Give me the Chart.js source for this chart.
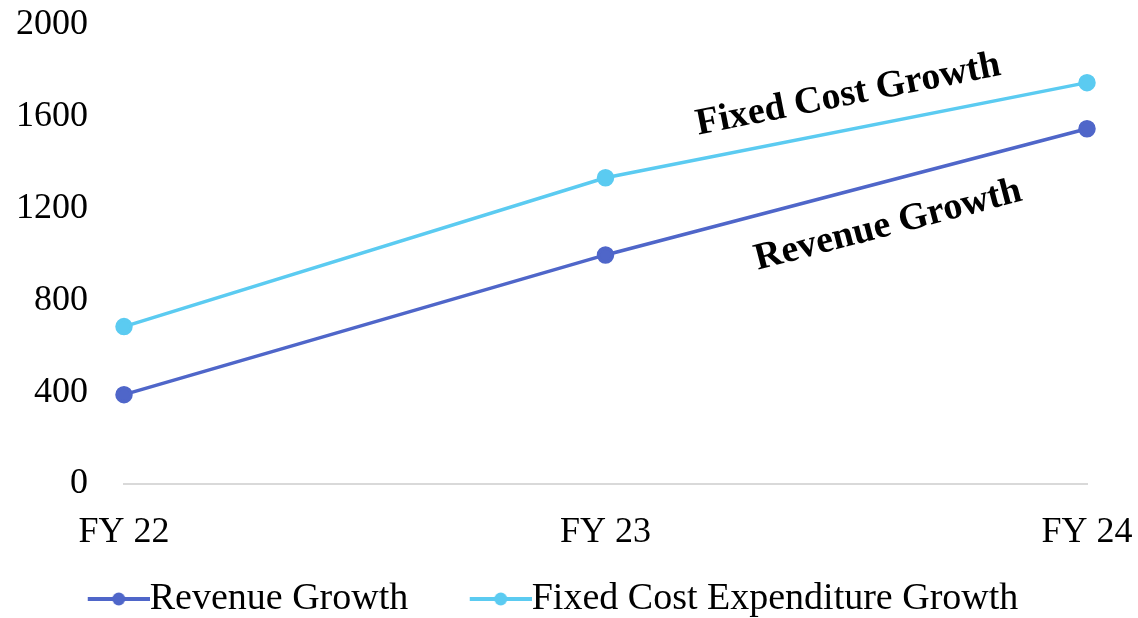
<!DOCTYPE html>
<html>
<head>
<meta charset="utf-8">
<script src="https://cdn.jsdelivr.net/npm/chart.js@4"></script>
<style>
  html, body { margin: 0; padding: 0; background: #fff; }
  #wrap { width: 1138px; height: 618px; }
</style>
</head>
<body>
<div id="wrap"><canvas id="chart"></canvas></div>
<script>
// --- data ---
const categories = ['FY 22', 'FY 23', 'FY 24'];
const revenueGrowth = [389, 997, 1546];
const fixedCostGrowth = [685, 1333, 1747];
const yTicks = [0, 400, 800, 1200, 1600, 2000];

// in-chart labels: text, dataset index, position along x (category index), value
const annoTexts = ['Fixed Cost Growth', 'Revenue Growth'];
const annoDataset = [1, 0];
const annoX = [1.504, 1.587];
const annoY = [1693, 1125];

const FONT = '"Liberation Serif", "Times New Roman", serif';
const REV_COLOR = '#4F66C9';
const FIX_COLOR = '#5BCBF1';

// legend symbol: line with a dot in the middle (left part left blank to pull the text closer)
function legendSymbol(color) {
  const w = 62, pad = 38, h = 14;
  const c = document.createElement('canvas');
  c.width = w + pad;
  c.height = h;
  const ctx = c.getContext('2d');
  ctx.strokeStyle = color;
  ctx.lineWidth = 4;
  ctx.beginPath();
  ctx.moveTo(pad, h / 2);
  ctx.lineTo(pad + w, h / 2);
  ctx.stroke();
  ctx.fillStyle = color;
  ctx.beginPath();
  ctx.arc(pad + w / 2, h / 2, 6.5, 0, Math.PI * 2);
  ctx.fill();
  return c;
}
const legendSymbols = [legendSymbol(REV_COLOR), legendSymbol(FIX_COLOR)];

// draws the rotated bold labels next to the lines
const lineLabels = {
  id: 'lineLabels',
  afterDatasetsDraw(chart) {
    const ctx = chart.ctx;
    const x = chart.scales.x, y = chart.scales.y;
    annoTexts.forEach((text, i) => {
      const data = chart.data.datasets[annoDataset[i]].data;
      const dx = x.getPixelForValue(2) - x.getPixelForValue(1);
      const dy = y.getPixelForValue(data[2]) - y.getPixelForValue(data[1]);
      const angle = Math.atan2(dy, dx);
      ctx.save();
      ctx.translate(x.getPixelForValue(annoX[i]), y.getPixelForValue(annoY[i]));
      ctx.rotate(angle);
      ctx.font = 'bold 38px ' + FONT;
      ctx.fillStyle = '#000';
      ctx.textAlign = 'center';
      ctx.textBaseline = 'middle';
      ctx.fillText(text, 0, 0);
      ctx.restore();
    });
  }
};

new Chart(document.getElementById('chart'), {
  type: 'line',
  data: {
    labels: categories,
    datasets: [{
      label: 'Revenue Growth',
      data: revenueGrowth,
      borderColor: REV_COLOR,
      backgroundColor: REV_COLOR,
      borderWidth: 3.5,
      pointRadius: 7,
      pointHoverRadius: 7,
      tension: 0
    }, {
      label: 'Fixed Cost Expenditure Growth',
      data: fixedCostGrowth,
      borderColor: FIX_COLOR,
      backgroundColor: FIX_COLOR,
      borderWidth: 3.5,
      pointRadius: 7,
      pointHoverRadius: 7,
      tension: 0
    }]
  },
  options: {
    responsive: true,
    maintainAspectRatio: false,
    animation: false,
    layout: { padding: { top: 24.5, right: 51, left: 0, bottom: -10 } },
    plugins: {
      legend: {
        position: 'bottom',
        labels: {
          usePointStyle: true,
          pointStyleWidth: 62,
          padding: 14,
          color: '#000',
          font: { family: FONT, size: 38 },
          generateLabels(chart) {
            const items = Chart.defaults.plugins.legend.labels.generateLabels(chart);
            items.forEach((item, i) => {
              item.pointStyle = legendSymbols[i];
              if (i === 0) item.text += '\u00a0\u00a0\u00a0';
            });
            return items;
          }
        }
      },
      tooltip: { enabled: false }
    },
    scales: {
      x: {
        offset: false,
        afterFit(axis) {
          axis.height = 82;
          axis.paddingLeft = 0;
          axis.paddingRight = 0;
        },
        grid: { display: false, drawTicks: false },
        border: { display: true, color: '#d9d9d9', width: 2 },
        ticks: {
          color: '#000',
          padding: 27,
          maxRotation: 0,
          font: { family: FONT, size: 36 }
        }
      },
      y: {
        min: 0,
        max: 2000,
        afterBuildTicks(axis) { axis.ticks = yTicks.map(v => ({ value: v })); },
        afterFit(axis) {
          axis.width = 124;
          axis.paddingTop = 0;
          axis.paddingBottom = 0;
        },
        grid: { display: false, drawTicks: false },
        border: { display: false },
        ticks: {
          color: '#000',
          padding: 36,
          font: { family: FONT, size: 36 },
          callback: v => String(v)
        }
      }
    }
  },
  plugins: [lineLabels]
});
</script>
</body>
</html>
